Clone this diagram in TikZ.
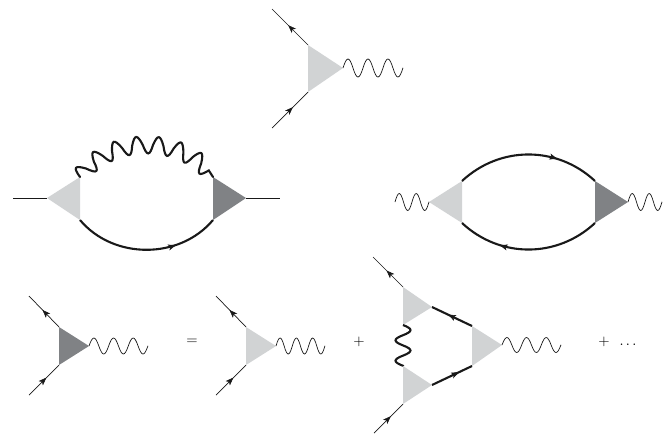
\documentclass[tikz,border=0pt]{standalone}
\usetikzlibrary{decorations,decorations.markings,arrows.meta}
\definecolor{lightv}{HTML}{D1D3D4}
\definecolor{darkv}{HTML}{808285}
\pgfdeclaredecoration{sinewave}{up}{
  \state{up}[switch if less than=+.4\pgfdecorationsegmentlength to final,width=+.5\pgfdecorationsegmentlength,next state=down]{
    \pgfpathcurveto{\pgfpoint{.19\pgfdecorationsegmentlength}{1.333\pgfdecorationsegmentamplitude}}{\pgfpoint{.31\pgfdecorationsegmentlength}{1.333\pgfdecorationsegmentamplitude}}{\pgfpoint{.5\pgfdecorationsegmentlength}{0pt}}
  }
  \state{down}[switch if less than=+.4\pgfdecorationsegmentlength to final,width=+.5\pgfdecorationsegmentlength,next state=up]{
    \pgfpathcurveto{\pgfpoint{.19\pgfdecorationsegmentlength}{-1.333\pgfdecorationsegmentamplitude}}{\pgfpoint{.31\pgfdecorationsegmentlength}{-1.333\pgfdecorationsegmentamplitude}}{\pgfpoint{.5\pgfdecorationsegmentlength}{0pt}}
  }
  \state{final}{\pgfpathlineto{\pgfpointdecoratedpathlast}}
}
\tikzset{
  thinline/.style={line width=0.7pt,draw=black!90},
  thickline/.style={line width=2.1pt,draw=black!90},
  photon/.style 2 args={decorate,decoration={sinewave,segment length=#1,amplitude=#2}},
  farrow/.style={postaction={decorate,decoration={markings,mark=at position #1 with {\arrow[line width=0.5pt]{Stealth[length=8pt,width=6pt,inset=2pt]}}}}},
  symb/.style={scale=1.45,inner sep=0pt},
}
\newcommand{\vtx}[7]{%
  \coordinate (#1-t) at (#3,#4);
  \coordinate (#1-b) at (#3,#5);
  \coordinate (#1-a) at (#6,#7);
  \fill[#2] (#1-t) -- (#1-a) -- (#1-b) -- cycle;
}
\begin{document}
\begin{tikzpicture}[x=1pt,y=-1pt]
\useasboundingbox (0,0) rectangle (668,434);
% top vertex
\vtx{v1}{lightv}{308}{45}{92}{343}{68}
\coordinate (v1-in) at (272,128);
\coordinate (v1-out) at (272,9);
\coordinate (v1-w) at (403,68);
\draw[thinline,farrow=0.55] (v1-t) -- (v1-out);
\draw[thinline,farrow=0.58] (v1-in) -- (v1-b);
\draw[thinline,photon={19.98pt}{9pt}] (v1-a) -- (v1-w);
% self energy
\vtx{s1}{lightv}{80}{177}{220}{47}{198}
\vtx{s2}{darkv}{213}{177}{220}{246}{198}
\coordinate (s-l) at (13,198);
\coordinate (s-r) at (280,198);
\draw[thinline] (s-l) -- (s1-a);
\draw[thinline] (s2-a) -- (s-r);
\draw[thickline,farrow=0.7] (s1-b) to[bend right=50] (s2-b);
\draw[thickline,line cap=round,photon={20.8pt}{8.5pt}] (s1-t) to[bend left=55] (s2-t);
% polarization
\vtx{p1}{lightv}{462}{181}{223}{429}{202}
\vtx{p2}{darkv}{595}{181}{223}{628}{202}
\coordinate (p-l) at (395,202);
\coordinate (p-r) at (662,202);
\draw[thinline,photon={16.98pt}{8.5pt}] (p-l) -- (p1-a);
\draw[thinline,photon={16.98pt}{8.5pt}] (p2-a) -- (p-r);
\draw[thickline,farrow=0.7] (p1-t) to[bend left=43] (p2-t);
\draw[thickline,farrow=0.7] (p2-b) to[bend left=43] (p1-b);
% bottom left: dressed vertex
\vtx{d}{darkv}{59}{327}{365}{89}{346}
\coordinate (d-in) at (29,395);
\coordinate (d-out) at (29,296);
\coordinate (d-w) at (148,346);
\draw[thinline,farrow=0.55] (d-t) -- (d-out);
\draw[thinline,farrow=0.58] (d-in) -- (d-b);
\draw[thinline,photon={19.64pt}{8pt}] (d-a) -- (d-w);
\node[symb] (eq) at (192,342) {=};
% bare vertex
\vtx{b}{lightv}{246}{327}{365}{276}{346}
\coordinate (b-in) at (216,395);
\coordinate (b-out) at (216,296);
\coordinate (b-w) at (325,346);
\draw[thinline,farrow=0.55] (b-t) -- (b-out);
\draw[thinline,farrow=0.58] (b-in) -- (b-b);
\draw[thinline,photon={16.3pt}{8pt}] (b-a) -- (b-w);
\node[symb] (plus1) at (359,342) {+};
% triangle diagram
\vtx{ta}{lightv}{403}{287}{325}{432}{307}
\vtx{tb}{lightv}{403}{366}{404}{432}{385}
\vtx{tc}{lightv}{472}{326}{366}{502}{345}
\coordinate (ta-out) at (373,257);
\coordinate (tb-in) at (374,433);
\coordinate (tc-w) at (561,345);
\draw[thinline,farrow=0.55] (ta-t) -- (ta-out);
\draw[thinline,farrow=0.58] (tb-in) -- (tb-b);
\draw[thickline,farrow=0.6] (tc-t) -- (ta-a);
\draw[thickline,farrow=0.68] (tb-a) -- (tc-b);
\draw[thickline,photon={20.4pt}{7.5pt}] (ta-b) -- (tb-t);
\draw[thinline,photon={19.64pt}{7.5pt}] (tc-a) -- (tc-w);
\node[symb] (plus2) at (604,342) {+};
\node[symb] (dots) at (628,345) {$\ldots$};
\end{tikzpicture}
\end{document}
